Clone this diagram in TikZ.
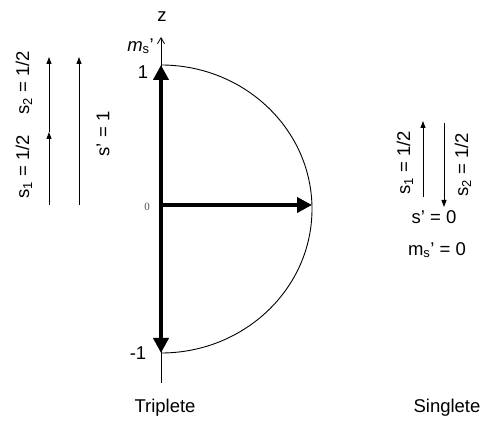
\documentclass[tikz,border=0pt]{standalone}
\usepackage{fontspec}
\setmainfont{Liberation Sans}
\newfontfamily\serifsmall{Liberation Serif}
\usetikzlibrary{arrows.meta}
\begin{document}
\begin{tikzpicture}[x=1pt,y=-1pt,
  lbl/.style={inner sep=0pt,font=\fontsize{18.5}{21}\selectfont},
  thickarrow/.style={line width=4pt,-{Triangle[length=15pt,width=15pt]}},
  thinarrow/.style={line width=0.9pt,-{Triangle[length=7pt,width=5pt]}},
  axisline/.style={line width=0.8pt}]
\useasboundingbox (0,0) rectangle (483,430);
% axis points
\coordinate (O) at (161,205);
\coordinate (T) at (161,65);
\coordinate (B) at (161,353);
\coordinate (R) at (312,205);
\coordinate (AT) at (161,37);
\coordinate (AB) at (161,383);
% axis
\draw[axisline,-{Straight Barb[length=6pt,width=7pt,line width=0.8pt]}] (AB) -- (AT);
% half ellipse
\draw[line width=0.9pt] (T) arc[start angle=90,end angle=-90,x radius=151pt,y radius=144pt];
% thick vectors
\draw[thickarrow] (O) -- (T);
\draw[thickarrow] (O) -- (B);
\draw[thickarrow] (O) -- (R);
% axis labels
\node[lbl] (z) at (162,17) {z};
\node[lbl,anchor=east] (ms) at (154,46) {\textit{m}\textsubscript{s}’};
\node[lbl] (one) at (143,72) {1};
\node[inner sep=0pt,font=\serifsmall\fontsize{11}{12}\selectfont,text=black!70] (zero) at (147,207) {0};
\node[lbl] (mone) at (138,353) {-1};
% left: s1 + s2
\coordinate (L1a) at (49,205);
\coordinate (L1b) at (49,132);
\coordinate (L1c) at (49,57);
\coordinate (L2a) at (79,205);
\coordinate (L2b) at (79,57);
\draw[thinarrow] (L1a) -- (L1b);
\draw[thinarrow] (L1b) -- (L1c);
\draw[thinarrow] (L2a) -- (L2b);
\node[lbl,rotate=90] (s2l) at (24,83) {s\textsubscript{2} = 1/2};
\node[lbl,rotate=90] (s1l) at (24,167) {s\textsubscript{1} = 1/2};
\node[lbl,rotate=90] (spl) at (103,134) {s’ = 1};
% right: singlet
\coordinate (U1) at (423,197);
\coordinate (U2) at (423,121);
\coordinate (D1) at (444,123);
\coordinate (D2) at (444,207);
\draw[thinarrow] (U1) -- (U2);
\draw[thinarrow] (D1) -- (D2);
\node[lbl,rotate=90] (s1r) at (405,163) {s\textsubscript{1} = 1/2};
\node[lbl,rotate=90] (s2r) at (463,165) {s\textsubscript{2} = 1/2};
\node[lbl] (sp0) at (434,217) {s’ = 0};
\node[lbl] (ms0) at (437,250) {m\textsubscript{s}’ = 0};
% captions
\node[lbl] (trip) at (165,408) {Triplete};
\node[lbl] (sing) at (447,408) {Singlete};
\end{tikzpicture}
\end{document}
